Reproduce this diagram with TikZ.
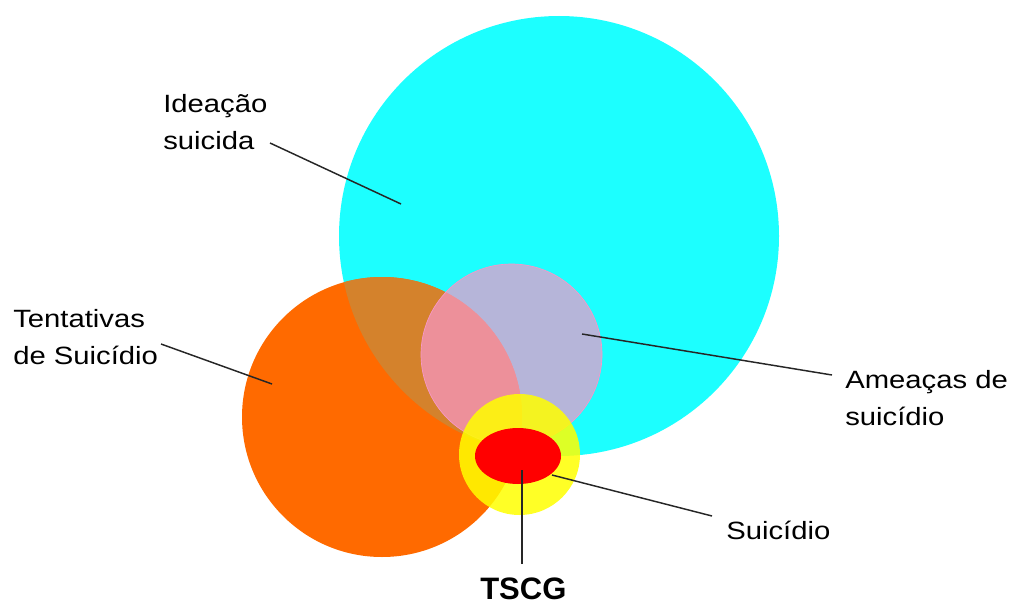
\documentclass[tikz,border=0pt]{standalone}
\usepackage{fontspec}
\setmainfont{Liberation Sans}[FakeStretch=1.17]
\newfontfamily\tscgfont{Liberation Sans}
\definecolor{colideacao}{RGB}{28,255,255}
\definecolor{coltentativas}{RGB}{255,106,0}
\definecolor{colmix}{RGB}{212,130,44}
\definecolor{colameacas}{RGB}{248,151,202}
\definecolor{colsuicidio}{RGB}{255,255,0}
\definecolor{coltscg}{RGB}{255,0,0}
\tikzset{
	pointer/.style={line width=1.1pt, color=black!85},
	labeltext/.style={inner sep=0pt, anchor=base west, align=left,
		font=\fontsize{18.75}{27.75}\selectfont},
	boldtext/.style={inner sep=0pt, anchor=base west,
		font=\tscgfont\bfseries\fontsize{23.25}{28}\selectfont}
}

\begin{document}
\begin{tikzpicture}[x=0.75pt, y=-0.75pt]
	\useasboundingbox (0,0) rectangle (1013,606);

	% circles
	\fill[colideacao] (559,236) circle (220);
	\fill[coltentativas] (382,417) circle (140);
	\begin{scope}
		\clip (382,417) circle (140);
		\fill[colmix] (559,236) circle (220);
	\end{scope}
	\fill[colameacas, fill opacity=0.7] (511.5,354.5) circle (90.5);
	\draw[colameacas, line width=0.5pt] (511.5,354.5) circle (90.5);
	\fill[colsuicidio, fill opacity=0.85] (519.5,454.5) circle (60.5);
	\fill[coltscg] (518,456) ellipse (43 and 28);

	% labels (base = last line)
	\node[labeltext] (ideacao) at (163,150) {Ideação\\suicida};
	\node[labeltext] (tentativas) at (13,364) {Tentativas\\de Suicídio};
	\node[labeltext] (ameacas) at (845,425) {Ameaças de\\suicídio};
	\node[labeltext] (suicidio) at (726,539) {Suicídio};
	\node[boldtext] (tscg) at (480,599) {TSCG};

	% pointer ends
	\coordinate (ideacaoEnd) at (270,143);
	\coordinate (ideacaoTip) at (401,204);
	\coordinate (tentativasEnd) at (161,344);
	\coordinate (tentativasTip) at (272,384);
	\coordinate (ameacasEnd) at (832,375);
	\coordinate (ameacasTip) at (582,334);
	\coordinate (suicidioEnd) at (712,516);
	\coordinate (suicidioTip) at (552,475);
	\coordinate (tscgEnd) at (522,564);
	\coordinate (tscgTip) at (522,470);

	\draw[pointer] (ideacaoEnd) -- (ideacaoTip);
	\draw[pointer] (tentativasEnd) -- (tentativasTip);
	\draw[pointer] (ameacasEnd) -- (ameacasTip);
	\draw[pointer] (suicidioEnd) -- (suicidioTip);
	\draw[pointer] (tscgEnd) -- (tscgTip);
\end{tikzpicture}
\end{document}
